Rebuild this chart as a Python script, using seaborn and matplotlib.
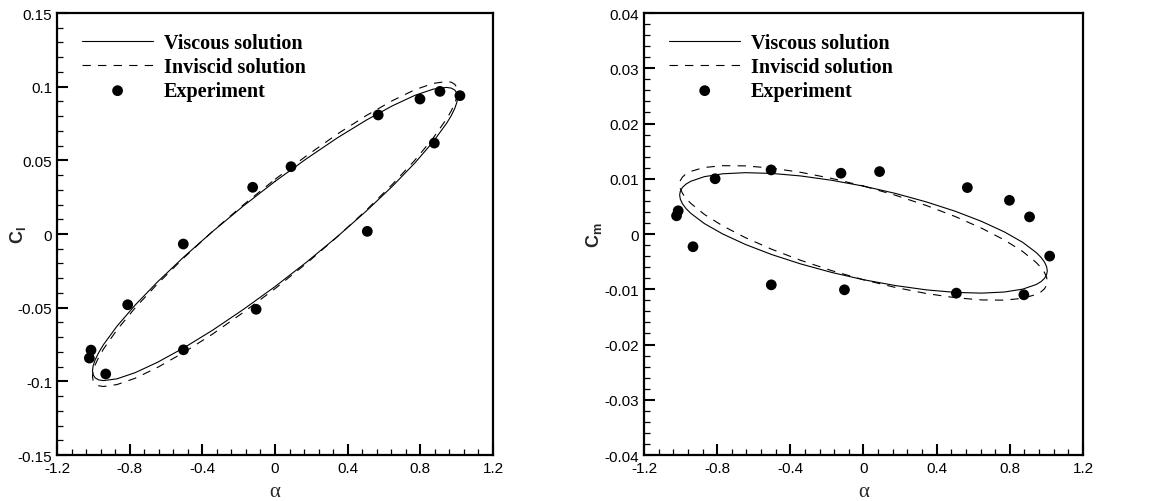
import matplotlib
matplotlib.use("Agg")
import matplotlib.pyplot as plt
from matplotlib.ticker import MultipleLocator, FuncFormatter
from matplotlib.font_manager import FontProperties
import seaborn as sns
import pandas as pd

# ---------------- data ----------------
alpha = [0.0, 0.1745, 0.3437, 0.5025, 0.6460, 0.7698, 0.8703, 0.9444, 0.9708, 0.9897,
         1.0012, 1.005, 1.0012, 0.9897, 0.9708, 0.9444, 0.8703, 0.7698, 0.6460, 0.5025,
         0.3437, 0.1745, 0.0, -0.1745, -0.3437, -0.5025, -0.6460, -0.7698, -0.8703, -0.9444,
         -0.9708, -0.9897, -1.0012, -1.005, -1.0012, -0.9897, -0.9708, -0.9444, -0.8703, -0.7698,
         -0.6460, -0.5025, -0.3437, -0.1745, 0.0]

cl_viscous = [0.0357, 0.0512, 0.0653, 0.0773, 0.0870, 0.0941, 0.0983, 0.0995, 0.0990, 0.0977,
              0.0956, 0.0929, 0.0894, 0.0853, 0.0805, 0.0751, 0.0626, 0.0482, 0.0324, 0.0156,
              -0.0017, -0.0190, -0.0357, -0.0512, -0.0653, -0.0773, -0.0870, -0.0941, -0.0983, -0.0995,
              -0.0990, -0.0977, -0.0956, -0.0929, -0.0894, -0.0853, -0.0805, -0.0751, -0.0626, -0.0482,
              -0.0324, -0.0156, 0.0017, 0.0190, 0.0357]

cl_inviscid = [0.0371, 0.0532, 0.0679, 0.0804, 0.0905, 0.0979, 0.1022, 0.1035, 0.1030, 0.1016,
               0.0994, 0.0966, 0.0930, 0.0887, 0.0837, 0.0781, 0.0651, 0.0501, 0.0337, 0.0162,
               -0.0018, -0.0198, -0.0371, -0.0532, -0.0679, -0.0804, -0.0905, -0.0979, -0.1022, -0.1035,
               -0.1030, -0.1016, -0.0994, -0.0966, -0.0930, -0.0887, -0.0837, -0.0781, -0.0651, -0.0501,
               -0.0337, -0.0162, 0.0018, 0.0198, 0.0371]

cm_viscous = [0.00867, 0.00735, 0.00581, 0.00411, 0.00228, 0.00039, -0.00150, -0.00335, -0.00423, -0.00508,
              -0.00590, -0.00666, -0.00737, -0.00803, -0.00862, -0.00914, -0.00998, -0.01050, -0.01070, -0.01057,
              -0.01011, -0.00933, -0.00827, -0.00695, -0.00541, -0.00371, -0.00188, 0.00001, 0.00190, 0.00375,
              0.00463, 0.00548, 0.00630, 0.00706, 0.00777, 0.00843, 0.00902, 0.00954, 0.01038, 0.01090,
              0.01110, 0.01097, 0.01051, 0.00973, 0.00867]

cm_inviscid = [0.00868, 0.00702, 0.00516, 0.00315, 0.00105, -0.00107, -0.00316, -0.00515, -0.00608, -0.00697,
               -0.00780, -0.00858, -0.00928, -0.00991, -0.01047, -0.01094, -0.01164, -0.01197, -0.01193, -0.01153,
               -0.01077, -0.00967, -0.00828, -0.00662, -0.00476, -0.00275, -0.00065, 0.00147, 0.00356, 0.00555,
               0.00648, 0.00737, 0.00820, 0.00898, 0.00968, 0.01031, 0.01087, 0.01134, 0.01204, 0.01237,
               0.01233, 0.01193, 0.01117, 0.01007, 0.00868]

exp_alpha = [-1.022, -1.013, -0.932, -0.811, -0.505, -0.504, -0.123, -0.104, 0.088, 0.508,
             0.568, 0.798, 0.877, 0.908, 1.018]
exp_cl = [-0.0842, -0.0788, -0.0950, -0.0480, -0.0068, -0.0786, 0.0317, -0.0511, 0.0457, 0.0018,
          0.0808, 0.0916, 0.0617, 0.0968, 0.0939]
exp_cm = [0.0033, 0.0042, -0.0023, 0.0100, 0.0116, -0.0092, 0.0110, -0.0101, 0.0113, -0.0107,
          0.0084, 0.0061, -0.0110, 0.0031, -0.0040]

legend_labels = ["Viscous solution", "Inviscid solution", "Experiment"]
x_label = "α"
y_labels = [r"$\mathbf{C_l}$", r"$\mathbf{C_m}$"]

# ---------------- style ----------------
sns.set_theme(style="white")
plt.rcParams["font.family"] = ["Liberation Sans", "DejaVu Sans"]
plt.rcParams["mathtext.fontset"] = "custom"
plt.rcParams["mathtext.bf"] = "Liberation Sans:bold"
plt.rcParams["mathtext.rm"] = "Liberation Sans"
plt.rcParams["axes.unicode_minus"] = False

fig = plt.figure(figsize=(11.57, 5.02), dpi=100)
ax1 = fig.add_axes([0.0493, 0.0916, 0.3768, 0.8805])
ax2 = fig.add_axes([0.5566, 0.0916, 0.3794, 0.8805])

def fmt(v, pos):
    if abs(v) < 1e-12:
        return "0"
    return "{:g}".format(round(v, 6))

legend_font = FontProperties(family="Liberation Serif", weight="bold", size=14.5)
dash = (0, (7.5, 6.5))

panels = [
    (ax1, cl_viscous, cl_inviscid, exp_cl, (-0.15, 0.15), 0.05, 0.01, y_labels[0], -0.066),
    (ax2, cm_viscous, cm_inviscid, exp_cm, (-0.04, 0.04), 0.01, 0.002, y_labels[1], -0.090),
]

for ax, visc, invi, expv, ylim, ymaj, ymin, ylab, ylx in panels:
    df = pd.DataFrame({"alpha": alpha, "visc": visc, "invi": invi})
    sns.lineplot(data=df, x="alpha", y="visc", sort=False, estimator=None, ax=ax,
                 color="black", lw=0.8, label=legend_labels[0])
    sns.lineplot(data=df, x="alpha", y="invi", sort=False, estimator=None, ax=ax,
                 color="black", lw=0.8, linestyle=dash, label=legend_labels[1])
    sns.scatterplot(x=exp_alpha, y=expv, ax=ax, color="black", s=60, edgecolor="none",
                    label=legend_labels[2], zorder=5)

    ax.set_xlim(-1.2, 1.2)
    ax.set_ylim(*ylim)
    ax.xaxis.set_major_locator(MultipleLocator(0.4))
    ax.xaxis.set_minor_locator(MultipleLocator(0.08))
    ax.yaxis.set_major_locator(MultipleLocator(ymaj))
    ax.yaxis.set_minor_locator(MultipleLocator(ymin))
    ax.xaxis.set_major_formatter(FuncFormatter(fmt))
    ax.yaxis.set_major_formatter(FuncFormatter(fmt))
    ax.tick_params(which="both", direction="in", top=False, right=False,
                   bottom=True, left=True, colors="black")
    ax.tick_params(which="major", length=8, width=1.5, labelsize=11)
    ax.tick_params(axis="x", which="major", pad=4.5)
    ax.tick_params(axis="y", which="major", pad=3.5)
    ax.tick_params(which="minor", length=4.5, width=0.9)
    for sp in ax.spines.values():
        sp.set_linewidth(1.6)
        sp.set_color("black")

    ax.set_xlabel(x_label, fontsize=15, family="Liberation Serif")
    ax.xaxis.set_label_coords(0.5, -0.06)
    ax.set_ylabel(ylab, fontsize=13)
    ax.yaxis.set_label_coords(ylx, 0.5)

    leg = ax.legend(loc="upper left", bbox_to_anchor=(0.058, 0.955), frameon=False,
                    prop=legend_font, handlelength=3.5, handletextpad=0.55,
                    labelspacing=0.2, borderpad=0, borderaxespad=0,
                    scatterpoints=1)
    for t in leg.get_texts():
        t.set_color("black")

fig.savefig("out.png", dpi=100, facecolor="white")
